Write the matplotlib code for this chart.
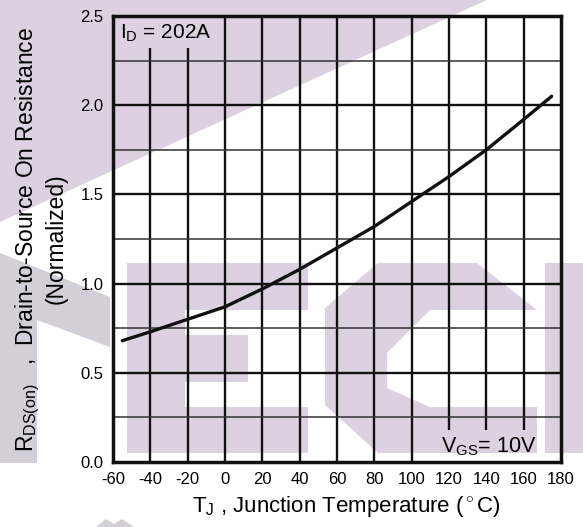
import matplotlib
matplotlib.use("Agg")
import matplotlib.pyplot as plt
from matplotlib.patches import Polygon

plt.rcParams["font.family"] = ["Liberation Sans", "DejaVu Sans"]
plt.rcParams["mathtext.fontset"] = "custom"
plt.rcParams["mathtext.rm"] = "Liberation Sans"
plt.rcParams["mathtext.it"] = "Liberation Sans"

# normalized on-resistance vs junction temperature
temp_c = [-55, -40, -20, 0, 20, 40, 60, 80, 100, 120, 140, 160, 175]
rds_norm = [0.68, 0.73, 0.80, 0.87, 0.97, 1.08, 1.20, 1.32, 1.46, 1.60, 1.75, 1.92, 2.05]

x_ticks = [-60, -40, -20, 0, 20, 40, 60, 80, 100, 120, 140, 160, 180]
y_ticks = [0.0, 0.5, 1.0, 1.5, 2.0, 2.5]
y_minor = [0.25, 0.75, 1.25, 1.75, 2.25]

W, H = 583, 527
fig = plt.figure(figsize=(W / 100, H / 100), dpi=100)

# background watermark, in pixel coords
purple = "#ddd0e1"
grey = "#d3cfd8"


def px_poly(pts, color):
    xy = [(x / W, 1 - y / H) for x, y in pts]
    fig.patches.append(Polygon(xy, closed=True, transform=fig.transFigure,
                               facecolor=color, edgecolor="none", zorder=-1))


px_poly([(0, 0), (487, 0), (0, 222)], purple)
px_poly([(0, 253), (110, 297), (110, 347), (37, 320), (37, 463), (0, 463)], grey)
px_poly([(96, 527), (106, 519), (114, 524), (122, 519), (134, 527)], grey)
# E
px_poly([(127, 263), (308, 263), (308, 310), (185, 310), (185, 335), (248, 335),
         (248, 382), (185, 382), (185, 407), (308, 407), (308, 453), (127, 453)], purple)
# C
px_poly([(378, 263), (477, 263), (537, 310), (430, 310), (387, 353), (387, 388),
         (430, 407), (537, 407), (537, 453), (378, 453), (325, 405), (325, 308)], purple)
# I
px_poly([(545, 263), (583, 263), (583, 453), (545, 453)], purple)

ax = fig.add_axes([113 / W, 1 - 462 / H, (561 - 113) / W, (462 - 16) / H], zorder=1)
ax.set_facecolor("none")
ax.set_xlim(-60, 180)
ax.set_ylim(0, 2.5)

# grid: some verticals are cut short around the annotations
for x in x_ticks[1:-1]:
    lo, hi = 0, 2.5
    if x in (-40, -20):
        hi = 2.32
    if x in (120, 140, 160):
        lo = 0.18
    ax.vlines(x, lo, hi, color="#111111", lw=1.7, zorder=2)
ax.hlines(y_ticks[1:-1], -60, 180, color="#111111", lw=1.7, zorder=2)
ax.hlines(y_minor, -60, 180, color="#333333", lw=1.1, zorder=2)

ax.plot(temp_c, rds_norm, color="#111111", lw=2.4, solid_capstyle="round", zorder=3)

for s in ax.spines.values():
    s.set_linewidth(2.5)
    s.set_color("#111111")

ax.set_xticks(x_ticks)
ax.set_yticks(y_ticks)
ax.set_xticklabels([str(v) for v in x_ticks])
ax.set_yticklabels([f"{v:.1f}" for v in y_ticks])
ax.tick_params(length=0, labelsize=12, pad=7)

ax.set_xlabel(r"T$_\mathrm{J}$ , Junction Temperature ($^\circ$C)", fontsize=16)
ax.xaxis.set_label_coords(0.52, -0.072)
ax.set_ylabel("R$_\\mathrm{DS(on)}$   ,  Drain-to-Source On Resistance\n(Normalized)",
              fontsize=16.5, labelpad=9, linespacing=1.15, ha="center")

ax.text(-56.5, 2.37, r"I$_\mathrm{D}$ = 202A", fontsize=15, va="baseline")
ax.text(167, 0.056, r"V$_\mathrm{GS}$= 10V", fontsize=15.5, va="baseline", ha="right")

fig.savefig("out.png", dpi=100)
